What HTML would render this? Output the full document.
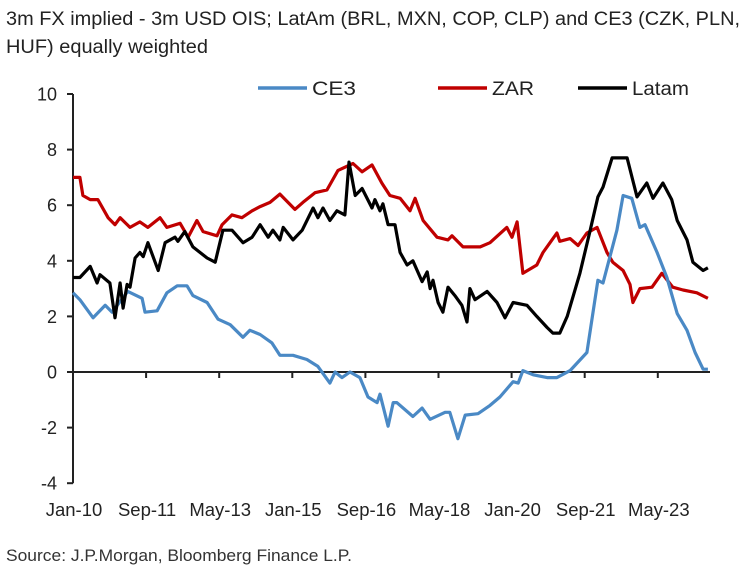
<!DOCTYPE html>
<html><head><meta charset="utf-8"><style>
body{margin:0;background:#fff;width:748px;height:581px;overflow:hidden;font-family:"Liberation Sans",Arial,sans-serif}
</style></head><body>
<svg id="c" width="748" height="581" xmlns="http://www.w3.org/2000/svg" font-family="Liberation Sans, Arial, sans-serif">
<text x="6" y="25" font-size="19" fill="#222" textLength="734" lengthAdjust="spacingAndGlyphs">3m FX implied - 3m USD OIS; LatAm (BRL, MXN, COP, CLP) and CE3 (CZK, PLN,</text>
<text x="6" y="53" font-size="19" fill="#222" textLength="202" lengthAdjust="spacingAndGlyphs">HUF) equally weighted</text>
<text x="6" y="561" font-size="17" fill="#333" textLength="346" lengthAdjust="spacingAndGlyphs">Source: J.P.Morgan, Bloomberg Finance L.P.</text>
<g id="axes"></g><g id="series"></g><g id="legend"></g>
</svg>
<script>
const yTicks=[10,8,6,4,2,0,-2,-4];
const xTickLabels=["Jan-10","Sep-11","May-13","Jan-15","Sep-16","May-18","Jan-20","Sep-21","May-23"];
const xTickMonths=[0,20,40,60,80,100,120,140,160];
const ce3Months=[0,1.9,5.5,8.8,10.7,15,18.9,19.7,23,25.7,28.5,31.2,32.8,36.7,39.7,43,46.5,48.4,51.2,54.4,56.6,60.2,64,67,70.3,71.7,73.6,75.8,78.5,80.7,83.2,84,86.2,87.6,88.6,93,95.5,97.7,101.8,103.1,105.3,107.3,110.8,114.1,116.8,120.4,121.8,123.1,125.9,129.7,132.4,136,140.6,143.6,145,148.8,150.5,152.9,155.1,156.5,159.8,162.5,165.3,168,170.2,172.4,173.7];
const ce3Values=[2.85,2.6,1.95,2.4,2.15,2.9,2.65,2.15,2.2,2.85,3.1,3.1,2.75,2.5,1.9,1.7,1.25,1.5,1.35,1.05,0.6,0.6,0.45,0.2,-0.4,0,-0.2,0,-0.2,-0.9,-1.1,-0.8,-1.95,-1.1,-1.1,-1.6,-1.3,-1.7,-1.45,-1.45,-2.4,-1.55,-1.5,-1.2,-0.9,-0.35,-0.4,0.05,-0.1,-0.2,-0.2,0.05,0.7,3.3,3.2,5.1,6.35,6.25,5.2,5.3,4.3,3.4,2.1,1.5,0.7,0.1,0.1];
const zarMonths=[0,1.9,2.7,4.7,6.8,9.6,11.5,12.9,15.6,18.3,20.5,23.8,25.7,29.3,31.5,33.9,35.6,39.4,40.8,43.5,46.2,49,51.2,53.9,56.6,60.7,62.9,66.2,69.5,72.5,76.6,79.1,81.8,84.5,86.7,89.5,92.2,93.6,95.8,99.6,102.6,103.7,106.7,111.4,114.1,118.7,120.1,121.5,123.1,126.9,128.6,130.5,132.4,133.2,136,138.2,140.6,143.4,146.1,147.7,150.5,152.4,153.2,155.1,158.4,161.1,164.1,166.9,170.7,173.7];
const zarValues=[7.0,7.0,6.35,6.2,6.2,5.55,5.3,5.55,5.2,5.4,5.2,5.55,5.2,5.35,4.85,5.45,5.05,4.9,5.3,5.65,5.55,5.8,5.95,6.1,6.4,5.85,6.1,6.45,6.55,7.25,7.5,7.2,7.45,6.8,6.35,6.25,5.8,6.25,5.45,4.85,4.75,4.9,4.5,4.5,4.65,5.2,4.85,5.4,3.55,3.85,4.3,4.65,5.0,4.7,4.8,4.55,5.0,5.2,4.3,3.95,3.65,3.15,2.5,3.0,3.05,3.55,3.05,2.95,2.85,2.65];
const latamMonths=[0,1.9,4.7,6.6,7.4,10.1,11.5,12.9,13.7,14.8,15.6,17,18.3,19.2,20.5,23.3,25.2,27.9,28.7,30.6,32.8,36.7,38.9,41,43.5,46.5,49,51.2,53.4,54.7,56.6,57.5,60.2,62.7,65.7,67,68.4,70.3,72.2,74.4,75.5,77.2,79.1,81.8,82.6,84,84.8,86.2,88.1,89.5,91.4,93,95.5,96.9,97.7,98.5,99.9,101.2,102.6,104.5,106.4,107.8,108.6,110,113.3,116,118.2,120.4,124.2,126.9,129.7,131.3,133.2,135.2,138.7,141.5,143.6,145,147.5,151.6,154.3,157,158.7,161.4,163.8,165.3,168,169.6,172.4,173.7];
const latamValues=[3.4,3.4,3.8,3.2,3.5,3.2,1.95,3.2,2.3,3.15,3.05,4.1,4.3,4.15,4.65,3.65,4.65,4.85,4.7,5.05,4.5,4.1,3.95,5.1,5.1,4.65,4.85,5.3,4.85,5.1,4.75,5.2,4.75,5.1,5.9,5.55,5.9,5.45,5.8,5.65,7.55,6.35,6.6,5.9,6.2,5.8,6.05,5.3,5.3,4.3,3.85,4.0,3.25,3.6,3.0,3.3,2.5,2.15,3.05,2.75,2.4,1.8,3.0,2.6,2.9,2.5,1.95,2.5,2.4,2.0,1.6,1.4,1.4,2.0,3.55,5.1,6.3,6.65,7.7,7.7,6.3,6.8,6.25,6.8,6.2,5.45,4.75,3.95,3.65,3.75];

const NS="http://www.w3.org/2000/svg";
const X0=73, PXM=3.655, Y0=372, PXU=27.8, XEND=710;
function xs(m){return X0+m*PXM;}
function ys(v){return Y0-v*PXU;}
function mk(tag,attrs,parent){const e=document.createElementNS(NS,tag);for(const k in attrs)e.setAttribute(k,attrs[k]);parent.appendChild(e);return e;}
const axes=document.getElementById('axes');
let yAxis=mk('line',{x1:X0,x2:X0,y1:ys(10),y2:ys(-4),stroke:'#222','stroke-width':2},axes);


let xAxis=mk('line',{x1:X0,x2:XEND,y1:ys(0),y2:ys(0),stroke:'#222','stroke-width':2},axes);


yTicks.forEach(v=>{
  let t=mk('line',{x1:X0-6,x2:X0,y1:ys(v),y2:ys(v),stroke:'#222','stroke-width':2},axes);
  
  
  let l=mk('text',{x:X0-16,y:ys(v)+6.5,'text-anchor':'end','font-size':18,fill:'#222'},axes);
  l.textContent=v;
  
  
});
xTickMonths.forEach((m,i)=>{
  let t=mk('line',{x1:xs(m),x2:xs(m),y1:ys(0),y2:ys(0)+6,stroke:'#222','stroke-width':2},axes);
  
  
  let l=mk('text',{x:xs(m)+1,y:516,'text-anchor':'middle','font-size':18.5,fill:'#222'},axes);
  l.textContent=xTickLabels[i];
  
  
});
const ser=document.getElementById('series');
function line(months,vals,color,name){
  const d=months.map((m,i)=>(i?'L':'M')+xs(m).toFixed(1)+','+ys(vals[i]).toFixed(1)).join('');
  let p=mk('path',{d:d,fill:'none',stroke:color,'stroke-width':3.2,'stroke-linejoin':'round'},ser);
  
  
}
line(zarMonths,zarValues,'#c00000','zar-line');
line(ce3Months,ce3Values,'#4a89c5','ce3-line');
line(latamMonths,latamValues,'#000000','latam-line');
const leg=document.getElementById('legend');
[['CE3','#4a89c5',258,44],['ZAR','#c00000',438,42],['Latam','#000000',578,57]].forEach(e=>{
  let g=mk('g',{},leg);
  
  
  mk('line',{x1:e[2],x2:e[2]+49,y1:88,y2:88,stroke:e[1],'stroke-width':3.5},g);
  let t=mk('text',{x:e[2]+54,y:95,'font-size':19,fill:'#222',textLength:e[3],lengthAdjust:'spacingAndGlyphs'},g);
  t.textContent=e[0];
});
</script>
</body></html>
